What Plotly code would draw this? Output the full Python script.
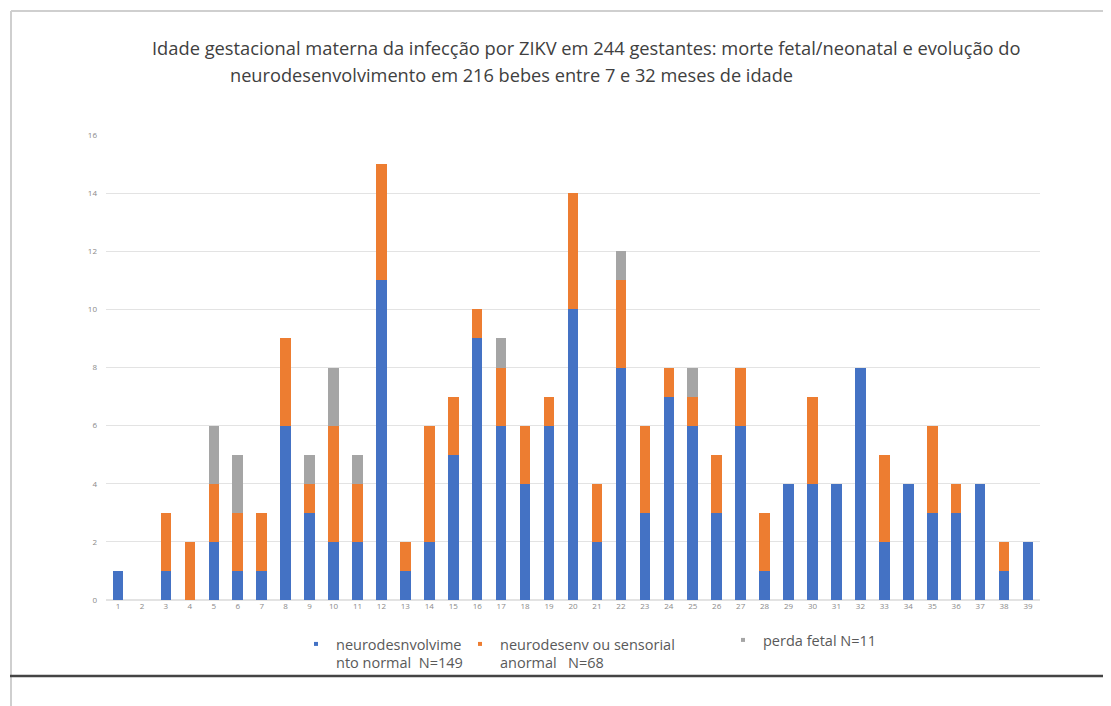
import plotly.graph_objects as go

weeks = [str(i) for i in range(1, 40)]
normal = [1, 0, 1, 0, 2, 1, 1, 6, 3, 2, 2, 11, 1, 2, 5, 9, 6, 4, 6, 10,
          2, 8, 3, 7, 6, 3, 6, 1, 4, 4, 4, 8, 2, 4, 3, 3, 4, 1, 2]
anormal = [0, 0, 2, 2, 2, 2, 2, 3, 1, 4, 2, 4, 1, 4, 2, 1, 2, 2, 1, 4,
           2, 3, 3, 1, 1, 2, 2, 2, 0, 3, 0, 0, 3, 0, 3, 1, 0, 1, 0]
perda = [0, 0, 0, 0, 2, 2, 0, 0, 1, 2, 1, 0, 0, 0, 0, 0, 1, 0, 0, 0,
         0, 1, 0, 0, 1, 0, 0, 0, 0, 0, 0, 0, 0, 0, 0, 0, 0, 0, 0]

names = ["neurodesnvolvime<br>nto normal\u00a0\u00a0N=149",
         "neurodesenv ou sensorial<br>anormal\u00a0\u00a0\u00a0N=68",
         "perda fetal N=11"]
colors = ["#4472C4", "#ED7D31", "#A5A5A5"]
title_l1 = "Idade gestacional materna da infecção por ZIKV em 244 gestantes: morte fetal/neonatal e evolução do"
title_l2 = "neurodesenvolvimento em 216 bebes entre 7 e 32 meses de idade"

OFF = 8  # page body margin
W, H = 1111 - OFF, 706 - OFF
# plot area in screen pixels
SX0, SX1, SY0, SY1 = 106, 1040, 135, 600
L, T = SX0 - OFF, SY0 - OFF
R, B = W - (SX1 - OFF), H - (SY1 - OFF)
pw, ph = W - L - R, H - T - B


def px(x):
    return (x - OFF - L) / pw


def py(y):
    return (H - B - (y - OFF)) / ph


legend_ids = ["legend", "legend2", "legend3"]
legend_pos = [(296, 628), (460, 628), (723, 624)]

fig = go.Figure()
for vals, c in zip([normal, anormal, perda], colors):
    fig.add_trace(go.Bar(x=weeks, y=vals, marker=dict(color=c, line=dict(width=0)),
                         showlegend=False))
for n, c, lg in zip(names, colors, legend_ids):
    fig.add_trace(go.Scatter(x=[None], y=[None], mode="markers", name=n, legend=lg,
                             marker=dict(symbol="square", size=4, color=c)))

legend_common = dict(orientation="h", xanchor="left", yanchor="top",
                     font=dict(size=14.5, color="#595959"), valign="top",
                     itemsizing="trace", bgcolor="rgba(0,0,0,0)", traceorder="normal")

layout_legends = {}
for lg, (lx, ly) in zip(legend_ids, legend_pos):
    layout_legends[lg] = dict(x=px(lx), y=py(ly), **legend_common)

fig.update_layout(
    width=W, height=H, barmode="stack", bargap=0.56,
    margin=dict(l=L, r=R, t=T, b=B),
    plot_bgcolor="white", paper_bgcolor="white",
    font=dict(family="Open Sans", color="#595959"),
    xaxis=dict(type="category", showgrid=False, showline=False, ticks="",
               tickfont=dict(size=8, color="#8a8a8a"), fixedrange=True),
    yaxis=dict(range=[0, 16], dtick=2, showgrid=True, gridcolor="#e3e3e3",
               gridwidth=1, zeroline=True, zerolinecolor="#e3e3e3", ticks="",
               tickfont=dict(size=8, color="#8a8a8a"), ticklabelstandoff=8),
    annotations=[
        dict(text=title_l1, x=px(150), y=py(47), xref="paper", yref="paper",
             xanchor="left", yanchor="middle", showarrow=False,
             font=dict(size=18.3, color="#404040")),
        dict(text=title_l2, x=px(228), y=py(75), xref="paper", yref="paper",
             xanchor="left", yanchor="middle", showarrow=False,
             font=dict(size=18.2, color="#404040")),
    ],
    shapes=[
        dict(type="line", xref="paper", yref="paper", x0=px(11), x1=px(1115),
             y0=py(11), y1=py(11), line=dict(color="#cfcfcf", width=2)),
        dict(type="line", xref="paper", yref="paper", x0=px(11), x1=px(11),
             y0=py(11), y1=py(710), line=dict(color="#cfcfcf", width=2)),
        dict(type="line", xref="paper", yref="paper", x0=px(10), x1=px(1115),
             y0=py(676), y1=py(676), line=dict(color="#444444", width=2.5)),
    ],
    **layout_legends,
)

fig.write_html("out.html")
